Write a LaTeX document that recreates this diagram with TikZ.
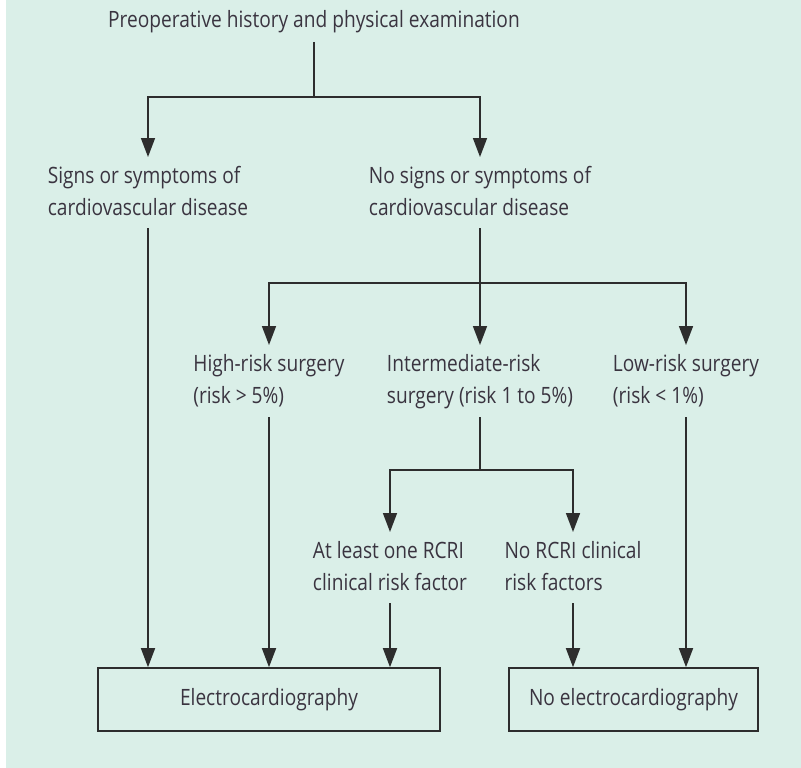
\documentclass[tikz,border=0pt]{standalone}
\usepackage{fontspec}
\setmainfont{Open Sans}[FakeStretch=0.85]
\usetikzlibrary{arrows.meta}
\definecolor{bgc}{RGB}{218,239,232}
\definecolor{linec}{RGB}{45,45,45}
\definecolor{txtc}{RGB}{58,52,64}
\tikzset{
  lbl/.style={inner sep=0pt, anchor=base, align=center, text=txtc,
    font=\fontsize{22.5}{32}\selectfont},
  lbll/.style={lbl, align=left},
  outbox/.style={draw=linec, line width=1.6pt, inner sep=0pt, text=txtc,
    font=\fontsize{22.5}{32}\selectfont, minimum height=63pt},
  conn/.style={draw=linec, line width=1.6pt},
  arr/.style={conn, -{Triangle[length=19pt,width=14pt]}}
}
\begin{document}
\begin{tikzpicture}[x=1pt,y=-1pt]
\useasboundingbox (0,0) rectangle (801,768);
\fill[bgc] (6,0) rectangle (801,768);
% nodes (base anchor = baseline of last line)
\node[lbl] (t) at (314,28) {Preoperative history and physical examination};
\node[lbll] (A) at (148,215) {Signs or symptoms of\\cardiovascular disease};
\node[lbll] (B) at (480,215) {No signs or symptoms of\\cardiovascular disease};
\node[lbll] (C) at (269,403) {High-risk surgery\\(risk > 5\%)};
\node[lbll] (D) at (480,403) {Intermediate-risk\\surgery (risk 1 to 5\%)};
\node[lbll] (E) at (686,403) {Low-risk surgery\\(risk < 1\%)};
\node[lbll] (F) at (390,590) {At least one RCRI\\clinical risk factor};
\node[lbll] (G) at (573,590) {No RCRI clinical\\risk factors};
\node[outbox, minimum width=342pt] (ecg) at (269,699.5) {Electrocardiography};
\node[outbox, minimum width=249pt] (noecg) at (633.5,699.5) {No electrocardiography};
% junctions
\coordinate (j1) at (314,97);
\coordinate (j2) at (480,283);
\coordinate (j3) at (480,470);
% connectors
\draw[conn] ([yshift=-14]t.base) -- (j1);
\draw[arr] (j1) -| ([yshift=58]A.base);
\draw[arr] (j1) -| ([yshift=58]B.base);
\draw[arr] ([yshift=-13]A.base) -- (A.base |- ecg.north);
\draw[conn] ([yshift=-13]B.base) -- (j2);
\draw[arr] (j2) -| ([yshift=58]C.base);
\draw[arr] (j2) -- ([yshift=58]D.base);
\draw[arr] (j2) -| ([yshift=58]E.base);
\draw[arr] ([yshift=-14]C.base) -- (C.base |- ecg.north);
\draw[conn] ([yshift=-14]D.base) -- (j3);
\draw[arr] ([yshift=-14]E.base) -- (E.base |- noecg.north);
\draw[arr] (j3) -| ([yshift=58]F.base);
\draw[arr] (j3) -| ([yshift=58]G.base);
\draw[arr] ([yshift=-13]F.base) -- (F.base |- ecg.north);
\draw[arr] ([yshift=-13]G.base) -- (G.base |- noecg.north);
\end{tikzpicture}
\end{document}
